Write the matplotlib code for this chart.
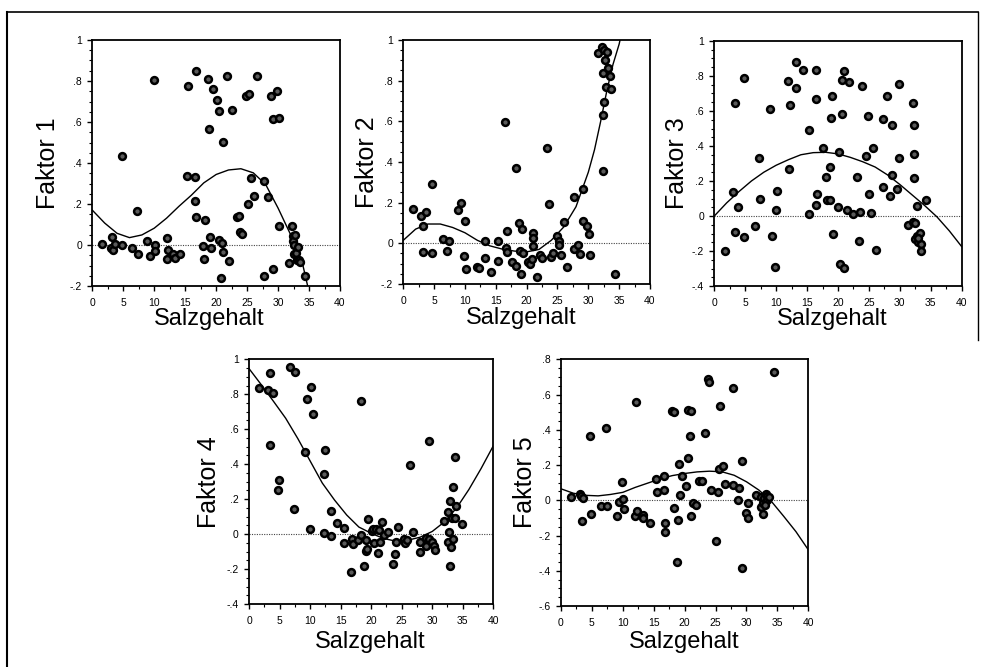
import matplotlib
matplotlib.use("Agg")
import matplotlib.pyplot as plt
from matplotlib.ticker import MultipleLocator, FuncFormatter
from matplotlib.lines import Line2D

plt.rcParams['font.family'] = ['Liberation Sans', 'DejaVu Sans']

# ---------------- data ----------------
x1 = [1.56, 3.2, 2.96, 3.4, 3.66, 4.8, 4.8, 6.45, 7.2, 7.4, 8.9, 9.3, 10.0, 10.1, 10.2, 12.1, 12.0, 12.3,
      13.1, 13.3, 14.2, 15.3, 15.4, 16.6, 16.6, 16.7, 16.8, 18.2, 17.8, 18.1, 18.7, 18.9, 19.0, 19.2, 19.5,
      20.1, 20.5, 20.4, 21.0, 21.1, 21.1, 20.75, 21.8, 22.0, 22.6, 23.3, 23.7, 23.8, 24.2, 24.9, 25.3, 25.2,
      25.6, 26.1, 26.6, 27.7, 27.7, 28.4, 28.8, 29.1, 29.2, 29.9, 30.2, 30.2, 31.7, 32.3, 32.4, 32.4, 32.5,
      32.7, 32.5, 32.96, 33.1, 33.2, 33.4, 33.5, 34.4]
y1 = [0.007, 0.04, -0.016, -0.025, 0.007, 0.0, 0.433, -0.013, 0.167, -0.043, 0.02, -0.054, 0.803, 0.0,
      -0.028, 0.033, -0.066, -0.026, -0.046, -0.062, -0.046, 0.339, 0.774, 0.333, 0.216, 0.136, 0.848, 0.12,
      -0.007, -0.069, 0.81, 0.567, 0.038, -0.016, 0.759, 0.705, 0.652, 0.025, 0.011, 0.503, -0.033, -0.159,
      0.823, -0.077, 0.659, 0.136, 0.143, 0.064, 0.052, 0.725, 0.736, 0.2, 0.326, 0.238, 0.826, 0.31, -0.149,
      0.233, 0.726, 0.615, -0.118, 0.752, 0.62, 0.095, -0.09, 0.095, 0.043, 0.02, 0.0, 0.049, -0.043, -0.041,
      -0.074, -0.008, -0.074, -0.082, -0.152]
cx1 = [0, 2, 4, 6, 8, 10, 12, 14, 16, 18, 20, 22, 24, 26, 28, 30, 32, 34, 36]
cy1 = [0.17, 0.107, 0.057, 0.036, 0.049, 0.082, 0.131, 0.189, 0.243, 0.303, 0.344, 0.366, 0.372, 0.352,
       0.295, 0.18, 0.052, -0.098, -0.36]

x2 = [1.5, 2.9, 3.2, 3.6, 3.2, 4.6, 4.65, 6.5, 7.35, 7.1, 8.9, 9.3, 9.8, 10.05, 10.2, 11.9, 12.3, 13.2,
      13.2, 14.2, 15.35, 15.35, 16.5, 16.6, 16.8, 16.8, 17.7, 18.2, 18.2, 18.8, 18.9, 19.1, 19.3, 19.4, 20.2,
      20.5, 20.9, 21.0, 21.0, 21.1, 21.7, 22.2, 22.5, 23.3, 23.6, 23.9, 24.2, 24.9, 25.2, 25.3, 25.6, 26.05,
      26.5, 27.6, 27.7, 28.3, 28.7, 29.1, 29.1, 29.8, 30.1, 30.2, 31.5, 32.2, 32.6, 33.1, 32.4, 32.7, 33.2,
      33.5, 32.9, 33.6, 32.5, 32.4, 32.3, 34.4]
y2 = [0.169, 0.136, 0.087, 0.156, -0.041, -0.049, 0.29, 0.021, 0.013, -0.039, 0.166, 0.197, -0.061, 0.108,
      -0.128, -0.118, -0.12, 0.01, -0.072, -0.143, 0.013, -0.087, 0.597, -0.025, -0.044, 0.059, -0.092, 0.369,
      -0.113, 0.102, -0.038, -0.149, 0.07, -0.049, -0.09, -0.1, -0.077, 0.049, 0.028, -0.013, -0.167, -0.056,
      -0.07, 0.469, 0.193, -0.069, -0.048, 0.038, 0.011, -0.008, -0.056, 0.107, -0.115, -0.026, 0.226, -0.008,
      -0.054, 0.266, 0.108, 0.084, 0.044, -0.056, 0.934, 0.967, 0.951, 0.943, 0.839, 0.902, 0.861, 0.825,
      0.767, 0.757, 0.695, 0.63, 0.357, -0.152]
cx2 = [0, 2, 4, 6, 8, 10, 12, 14, 16, 18, 20, 22, 24, 26, 28, 29, 30, 31, 32, 33, 34, 35, 36]
cy2 = [0.015, 0.07, 0.095, 0.095, 0.078, 0.052, 0.015, -0.012, -0.028, -0.038, -0.042, -0.03, 0.015, 0.08,
       0.18, 0.265, 0.35, 0.46, 0.6, 0.75, 0.88, 0.98, 1.12]

x3 = [1.67, 3.0, 3.4, 3.4, 3.8, 4.8, 4.8, 6.5, 7.2, 7.4, 9.0, 9.3, 9.8, 10.0, 10.2, 11.9, 12.2, 12.1, 13.2,
      13.2, 14.3, 15.3, 15.3, 16.4, 16.5, 16.5, 16.6, 17.6, 18.0, 18.2, 18.65, 18.7, 18.9, 19.0, 19.2, 20.0,
      20.2, 20.3, 20.6, 20.7, 20.9, 21.0, 21.5, 21.8, 22.4, 23.1, 23.4, 23.6, 23.9, 24.6, 24.9, 24.96, 25.3,
      25.7, 26.1, 27.3, 27.3, 28.0, 28.4, 28.7, 28.8, 29.5, 29.8, 29.9, 31.3, 32.1, 32.3, 32.3, 32.3, 32.1,
      32.5, 32.4, 32.8, 32.8, 33.0, 33.2, 33.5, 33.4, 34.3, 33.0]
y3 = [-0.2, 0.135, 0.648, -0.09, 0.053, -0.12, 0.79, -0.059, 0.333, 0.1, 0.613, -0.112, -0.291, 0.034,
      0.145, 0.773, 0.632, 0.267, 0.73, 0.878, 0.834, 0.491, 0.01, 0.669, 0.834, 0.065, 0.128, 0.387, 0.225,
      0.09, 0.09, 0.28, 0.562, 0.688, -0.101, 0.053, 0.368, -0.274, 0.585, 0.775, -0.295, 0.827, 0.036,
      0.766, 0.01, 0.223, -0.143, 0.023, 0.745, 0.343, 0.571, 0.128, 0.017, 0.39, -0.194, 0.556, 0.166,
      0.688, 0.114, 0.52, 0.236, 0.154, 0.333, 0.754, -0.053, 0.648, 0.52, 0.215, 0.356, -0.034, -0.038,
      -0.131, 0.057, -0.112, -0.147, -0.095, -0.158, -0.202, 0.093, -0.124]
cx3 = [0, 2, 4, 6, 8, 10, 12, 14, 16, 18, 20, 22, 24, 26, 28, 30, 32, 34, 36, 38, 40]
cy3 = [0.0, 0.075, 0.14, 0.2, 0.25, 0.29, 0.322, 0.35, 0.362, 0.364, 0.355, 0.335, 0.31, 0.28, 0.235, 0.18,
       0.12, 0.06, -0.005, -0.085, -0.175]

x4 = [1.7, 3.05, 3.5, 3.9, 3.4, 4.85, 4.8, 6.65, 7.6, 7.3, 9.2, 9.5, 10.2, 10.4, 10.0, 12.2, 12.5, 12.3, 13.4,
      13.5, 14.4, 15.5, 15.5, 16.7, 16.8, 16.95, 17.9, 18.3, 18.4, 18.8, 19.1, 19.2, 19.4, 19.5, 20.1, 20.3,
      20.5, 20.8, 21.1, 21.3, 21.4, 21.85, 22.1, 22.7, 23.5, 23.9, 24.1, 24.4, 25.3, 25.5, 25.8, 26.4, 26.8,
      27.95, 28.0, 28.9, 29.0, 29.4, 29.4, 30.0, 30.35, 30.5, 31.9, 32.6, 32.9, 32.75, 32.6, 32.9, 33.0, 33.4,
      33.3, 33.4, 33.7, 33.8, 33.9, 34.8]
y4 = [0.834, 0.823, 0.92, 0.808, 0.512, 0.307, 0.251, 0.958, 0.928, 0.143, 0.469, 0.771, 0.842, 0.686, 0.03,
      0.343, 0.48, 0.008, 0.133, -0.013, 0.061, 0.036, -0.05, -0.217, -0.03, -0.057, -0.034, -0.004, 0.76,
      -0.181, -0.095, -0.034, -0.086, 0.084, 0.019, 0.03, -0.05, 0.029, -0.11, 0.025, -0.044, 0.067, -0.004,
      0.01, -0.171, -0.114, -0.046, 0.042, -0.029, -0.05, -0.032, 0.398, 0.011, -0.105, -0.046, -0.023,
      -0.069, 0.531, -0.03, -0.046, -0.07, -0.09, 0.076, 0.128, 0.19, 0.011, -0.044, -0.181, -0.076, 0.27,
      0.091, -0.03, 0.091, 0.442, 0.158, 0.059]
cx4 = [0, 2, 4, 6, 8, 10, 12, 14, 16, 18, 20, 22, 24, 26, 28, 30, 32, 34, 36, 38, 40]
cy4 = [0.947, 0.855, 0.76, 0.663, 0.546, 0.419, 0.292, 0.195, 0.109, 0.04, 0.005, -0.025, -0.04, -0.035,
       -0.018, 0.015, 0.07, 0.15, 0.255, 0.375, 0.505]

x5 = [1.6, 3.1, 3.3, 3.6, 3.4, 4.7, 4.8, 6.5, 7.5, 7.3, 9.1, 9.4, 9.9, 10.1, 10.2, 12.2, 12.0, 12.3, 13.3,
      13.3, 14.4, 15.4, 15.5, 16.7, 16.7, 16.9, 16.9, 18.0, 18.3, 18.3, 18.8, 19.0, 19.1, 19.3, 19.5, 20.2,
      20.6, 20.6, 21.1, 20.9, 21.1, 21.3, 21.8, 22.3, 22.75, 23.3, 23.8, 24.0, 24.3, 25.0, 25.4, 25.5, 25.7,
      26.2, 26.6, 27.8, 27.9, 28.6, 28.8, 29.2, 29.3, 29.9, 30.2, 30.3, 31.5, 32.3, 32.4, 32.7, 32.7, 32.9,
      33.2, 33.3, 33.4, 33.6, 33.0, 34.5]
y5 = [0.019, 0.038, 0.027, 0.013, -0.12, 0.362, -0.08, -0.032, -0.032, 0.408, -0.087, -0.011, 0.102, 0.008,
      -0.049, 0.56, -0.087, -0.063, -0.083, -0.1, -0.131, 0.12, 0.047, 0.14, 0.057, -0.127, -0.178, 0.507,
      0.499, -0.044, -0.349, -0.112, 0.207, 0.03, 0.14, 0.08, 0.241, 0.512, 0.505, 0.362, -0.091, -0.015,
      -0.025, 0.112, 0.112, 0.38, 0.69, 0.672, 0.061, -0.232, 0.049, 0.176, 0.537, 0.192, 0.091, 0.636, 0.087,
      0.002, 0.07, 0.224, -0.383, -0.07, -0.013, -0.102, 0.032, 0.019, -0.038, -0.078, -0.015, 0.013, 0.038,
      0.004, 0.025, 0.017, -0.025, 0.729]
cx5 = [0, 2, 4, 6, 8, 10, 12, 14, 16, 18, 20, 22, 24, 26, 28, 30, 32, 34, 36, 38, 40]
cy5 = [0.065, 0.04, 0.028, 0.025, 0.033, 0.045, 0.073, 0.097, 0.121, 0.14, 0.152, 0.161, 0.165, 0.162,
       0.142, 0.105, 0.058, -0.005, -0.09, -0.178, -0.281]

labels = ["Faktor 1", "Faktor 2", "Faktor 3", "Faktor 4", "Faktor 5"]
xlabel = "Salzgehalt"
ylims = [(-0.2, 1.0), (-0.2, 1.0), (-0.4, 1.0), (-0.4, 1.0), (-0.6, 0.8)]

# ---------------- layout (pixels) ----------------
W, H = 985, 667
fig = plt.figure(figsize=(W / 100, H / 100), dpi=100)

boxes = [(92.3, 40, 340, 286), (403.3, 40, 650, 284), (714.3, 41, 961.7, 286),
         (249, 359.3, 493.3, 604), (561, 359.3, 808.3, 606)]
ylab_x = [48, 367, 677, 209, 525]
xlab_pos = [(209, 319), (521, 318), (832, 319), (370, 642), (684, 642)]

def yfmt(v, pos):
    if abs(v) < 1e-9:
        return "0"
    if abs(v - 1) < 1e-9:
        return "1"
    s = f"{v:.1f}"
    return s.replace("0.", ".")

data = [(x1, y1, cx1, cy1), (x2, y2, cx2, cy2), (x3, y3, cx3, cy3), (x4, y4, cx4, cy4), (x5, y5, cx5, cy5)]

for i, ((l, t, r, b), (xs, ys, cx, cy)) in enumerate(zip(boxes, data)):
    ax = fig.add_axes([l / W, 1 - b / H, (r - l) / W, (b - t) / H])
    ax.set_xlim(0, 40)
    ax.set_ylim(*ylims[i])
    ax.axhline(0, color='#444444', lw=0.8, ls=(0, (1, 1.2)), zorder=1)
    ax.plot(cx, cy, color='black', lw=1.0, zorder=2, clip_on=True)
    ax.scatter(xs, ys, s=24, facecolor='#5a5a5a', edgecolor='black', linewidths=1.8, zorder=3, clip_on=False)
    ax.xaxis.set_major_locator(MultipleLocator(5))
    ax.xaxis.set_minor_locator(MultipleLocator(2.5))
    ax.yaxis.set_major_locator(MultipleLocator(0.2))
    ax.yaxis.set_minor_locator(MultipleLocator(0.05))
    ax.yaxis.set_major_formatter(FuncFormatter(yfmt))
    ax.tick_params(which='major', direction='out', length=3.5, width=1.0, labelsize=7.5, pad=4)
    ax.tick_params(which='minor', direction='out', length=2, width=0.8)
    ax.tick_params(axis='x', which='major', pad=5)
    for sp in ax.spines.values():
        sp.set_linewidth(1.3)
        sp.set_color('black')
    fig.text(ylab_x[i] / W, 1 - ((t + b) / 2) / H, labels[i], rotation=90, ha='center', va='center',
             fontsize=18)
    fig.text(xlab_pos[i][0] / W, 1 - xlab_pos[i][1] / H, xlabel, ha='center', va='center', fontsize=17)

# outer frame of the scanned figure
fig.add_artist(Line2D([7 / W, 7 / W], [0, 1 - 12 / H], transform=fig.transFigure, color='black', lw=1.5))
fig.add_artist(Line2D([7 / W, 978 / W], [1 - 12 / H, 1 - 12 / H], transform=fig.transFigure, color='black', lw=1.2))
fig.add_artist(Line2D([978 / W, 978 / W], [1 - 12 / H, 1 - 340 / H], transform=fig.transFigure, color='black', lw=1.0))

fig.savefig("out.png", dpi=100)
